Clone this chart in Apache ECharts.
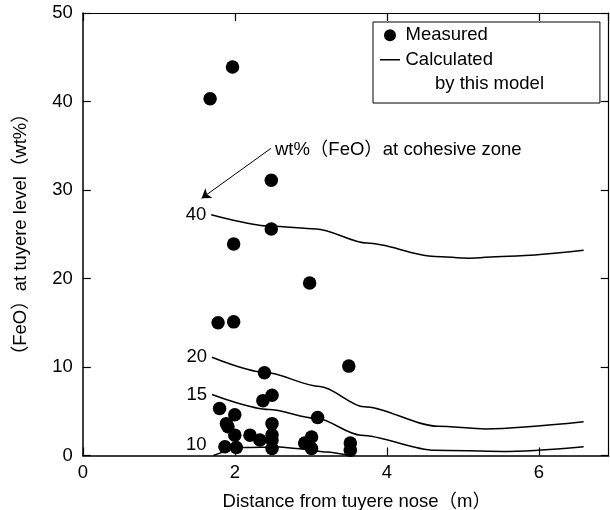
<!DOCTYPE html>
<html>
<head>
<meta charset="utf-8">
<script src="https://cdn.jsdelivr.net/npm/echarts@6/dist/echarts.min.js"></script>
<style>
  html, body { margin: 0; padding: 0; background: #fff; }
  #main { width: 610px; height: 510px; }
</style>
</head>
<body>
<div id="main"></div>
<script>
// 実測値 (x: distance m, y: FeO wt%)
var measured = [
  [1.97, 43.9], [1.675, 40.3], [2.48, 31.1], [2.48, 25.6], [1.985, 23.9],
  [2.985, 19.5], [1.78, 15.0], [1.985, 15.1], [3.50, 10.1], [2.39, 9.36],
  [2.49, 6.8], [2.37, 6.2], [3.09, 4.3], [1.80, 5.3], [2.0, 4.6],
  [1.89, 3.6], [1.91, 3.25], [2.0, 2.3], [2.2, 2.3], [2.33, 1.75],
  [1.87, 1.0], [2.02, 0.9], [2.49, 3.6], [2.49, 2.35], [2.49, 1.75],
  [2.49, 0.8], [3.01, 2.1], [2.92, 1.4], [3.01, 0.8], [3.52, 1.4], [3.52, 0.6]
];

// 計算値 (FeO at cohesive zone = 40, 20, 15, 10 wt%)
var calc40 = [[1.69, 27.2], [2.48, 25.9], [3.07, 25.6], [3.74, 24.0], [4.63, 22.5], [5.08, 22.3], [5.52, 22.5], [6.59, 23.2]];
var calc20 = [[1.70, 11.1], [2.39, 9.4], [3.12, 7.8], [3.70, 5.5], [4.67, 3.3], [5.30, 3.0], [6.59, 3.8]];
var calc15 = [[1.70, 6.9], [2.45, 5.2], [3.07, 4.2], [3.66, 2.3], [4.63, 0.6], [5.52, 0.45], [6.59, 1.0]];
var calc10 = [[1.72, 0], [2.11, 0.9], [2.59, 0.95], [2.81, 0.8], [3.21, 0.4], [3.5, 0]];
var curveNames = ['40', '20', '15', '10'];

// 注記の矢印
var arrowFrom = [2.475, 34.7];
var arrowTo = [1.563, 29.06];

var FONT = '"Liberation Sans", Arial, "Noto Sans CJK JP", sans-serif';
var FS = 18.5;

var myChart = echarts.init(document.getElementById('main'), null, { renderer: 'canvas' });

function calcSeries(data, label, offset) {
  return {
    name: 'Calculated',
    type: 'line',
    data: data,
    symbol: 'none',
    smooth: 0.3,
    smoothMonotone: 'x',
    lineStyle: { color: '#000', width: 1.5 },
    itemStyle: { color: '#000' },
    silent: true,
    markPoint: {
      symbol: 'circle',
      symbolSize: 0,
      silent: true,
      label: {
        show: true,
        position: 'left',
        distance: 5,
        offset: offset,
        formatter: '{b}',
        color: '#000',
        fontFamily: FONT,
        fontSize: FS
      },
      data: [{ name: label, coord: data[0] }]
    }
  };
}

var tickStyle = { show: true, inside: true, length: 8, lineStyle: { color: '#000', width: 1.2 } };

myChart.setOption({
  animation: false,
  textStyle: { fontFamily: FONT, color: '#000' },
  grid: { left: 82.8, right: 1.3, top: 13, bottom: 54.5, containLabel: false, outerBoundsMode: 'none' },
  legend: {
    orient: 'vertical',
    left: 373,
    top: 22,
    itemWidth: 21,
    itemHeight: 12,
    itemGap: 6,
    padding: [4, 107, 34, 7],
    borderColor: '#000',
    borderWidth: 1,
    textStyle: { fontFamily: FONT, fontSize: FS, color: '#000' },
    data: [
      { name: 'Measured', icon: 'circle' },
      { name: 'Calculated', icon: 'path://M0,0L0,0.1M0,5.3L20,5.3L20,6.7L0,6.7ZM20,12L20,11.9' }
    ]
  },
  graphic: [{
    type: 'text',
    left: 435,
    top: 75,
    style: { text: 'by this model', font: FS + 'px ' + FONT, fill: '#000' }
  }],
  xAxis: [{
    type: 'value',
    min: 0,
    max: 6.92,
    interval: 2,
    name: 'Distance from tuyere nose（m）',
    nameLocation: 'middle',
    nameGap: 37,
    nameTextStyle: { fontFamily: FONT, fontSize: FS, color: '#000', padding: [0, 0, 0, 22] },
    axisLine: { lineStyle: { color: '#000', width: 1.5 } },
    axisTick: tickStyle,
    axisLabel: { showMaxLabel: false, margin: 8, fontFamily: FONT, fontSize: FS, color: '#000' },
    splitLine: { show: false }
  }, {
    type: 'value',
    position: 'top',
    min: 0,
    max: 6.92,
    interval: 2,
    axisLine: { show: true, onZero: false, lineStyle: { color: '#000', width: 1.2 } },
    axisTick: tickStyle,
    axisLabel: { show: false },
    splitLine: { show: false }
  }],
  yAxis: [{
    type: 'value',
    min: 0,
    max: 50,
    interval: 10,
    name: '（FeO）at tuyere level（wt%）',
    nameLocation: 'middle',
    nameRotate: 90,
    nameGap: 53,
    nameTextStyle: { fontFamily: FONT, fontSize: FS, color: '#000' },
    axisLine: { show: true, lineStyle: { color: '#000', width: 1.5 } },
    axisTick: tickStyle,
    axisLabel: { margin: 10, fontFamily: FONT, fontSize: FS, color: '#000' },
    splitLine: { show: false }
  }, {
    type: 'value',
    position: 'right',
    min: 0,
    max: 50,
    interval: 10,
    axisLine: { show: true, onZero: false, lineStyle: { color: '#000', width: 1.2 } },
    axisTick: tickStyle,
    axisLabel: { show: false },
    splitLine: { show: false }
  }],
  series: [
    {
      name: 'Measured',
      type: 'scatter',
      data: measured,
      symbol: 'circle',
      symbolSize: 13.5,
      itemStyle: { color: '#000', opacity: 1 },
      silent: true,
      markLine: {
        silent: true,
        symbol: ['none', 'arrow'],
        symbolSize: 9,
        label: { show: false },
        lineStyle: { color: '#000', width: 1, type: 'solid' },
        data: [[{ coord: arrowFrom }, { coord: arrowTo }]]
      },
      markPoint: {
        symbol: 'circle',
        symbolSize: 0,
        silent: true,
        label: {
          show: true,
          position: 'right',
          distance: 4,
          offset: [0, 2],
          formatter: 'wt%（FeO）at cohesive zone',
          color: '#000',
          fontFamily: FONT,
          fontSize: FS
        },
        data: [{ name: 'note', coord: arrowFrom }]
      }
    },
    calcSeries(calc40, curveNames[0], [0, 0]),
    calcSeries(calc20, curveNames[1], [0, 0]),
    calcSeries(calc15, curveNames[2], [0, 0]),
    calcSeries(calc10, curveNames[3], [-2, -11])
  ]
});
</script>
</body>
</html>
